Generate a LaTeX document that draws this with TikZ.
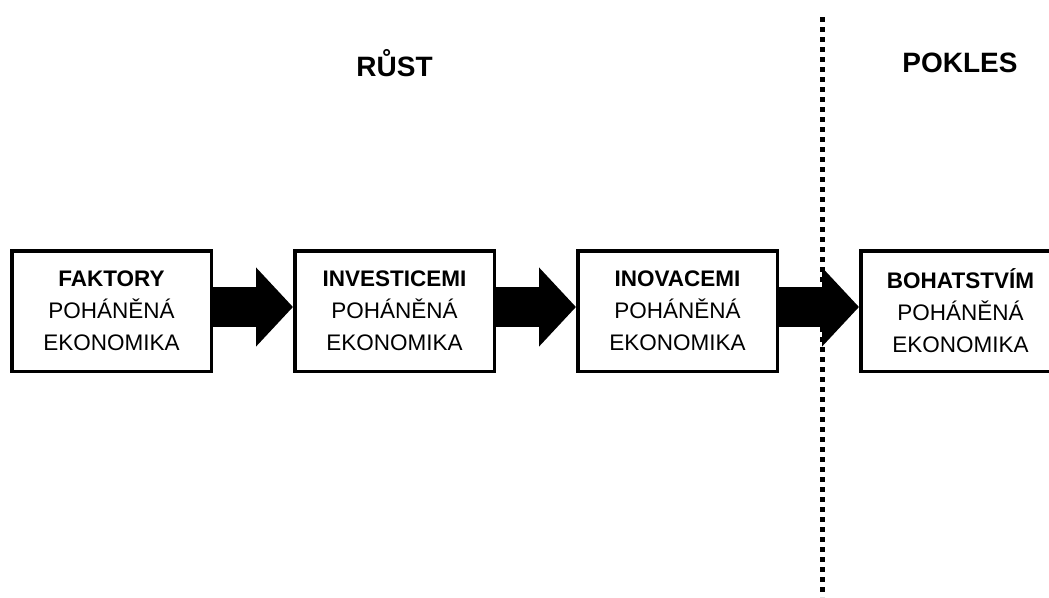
\documentclass[tikz,border=0pt]{standalone}
\usepackage{fontspec}
\setmainfont{Liberation Sans}
\usetikzlibrary{arrows.meta}
\tikzset{
	stage/.style={draw, line width=3.5pt, minimum width=199.5pt, minimum height=120.5pt, inner sep=0pt, align=center, font=\fontsize{22.5}{32}\selectfont},
	bigarrow/.style={line width=40pt, -{Triangle[length=37pt 0, width=77pt 0]}},
	phase/.style={font=\fontsize{28}{34}\selectfont\bfseries}
}
\begin{document}
\begin{tikzpicture}[x=1pt, y=-1pt]
	\def \n {4}
	\def \pitch {283}
	\clip (0,0) rectangle (1049,597);
	
	% dividing line between the two phases
	\coordinate (divtop) at (822,17);
	\coordinate (divbot) at (822,597);
	\draw[line width=5pt, dash pattern=on 5pt off 5pt] (divtop) -- (divbot);
	
	\node(rust)[phase] at (394.5,63) {RŮST};
	\node(pokles)[phase] at (960,63) {POKLES};
	
	\foreach \s/\word in {1/FAKTORY, 2/INVESTICEMI, 3/INOVACEMI, 4/BOHATSTVÍM}
	{
		\node(\s)[stage] at ({111.5 + \pitch*(\s-1)},311) {\textbf{\word}\\POHÁNĚNÁ\\EKONOMIKA};
	}
	\draw[bigarrow] ([yshift=4pt]1.east) -- ([yshift=4pt]2.west);
	\draw[bigarrow] ([yshift=4pt]2.east) -- ([yshift=4pt]3.west);
	\draw[bigarrow] ([yshift=4pt]3.east) -- ([yshift=4pt]4.west);
\end{tikzpicture}
\end{document}
